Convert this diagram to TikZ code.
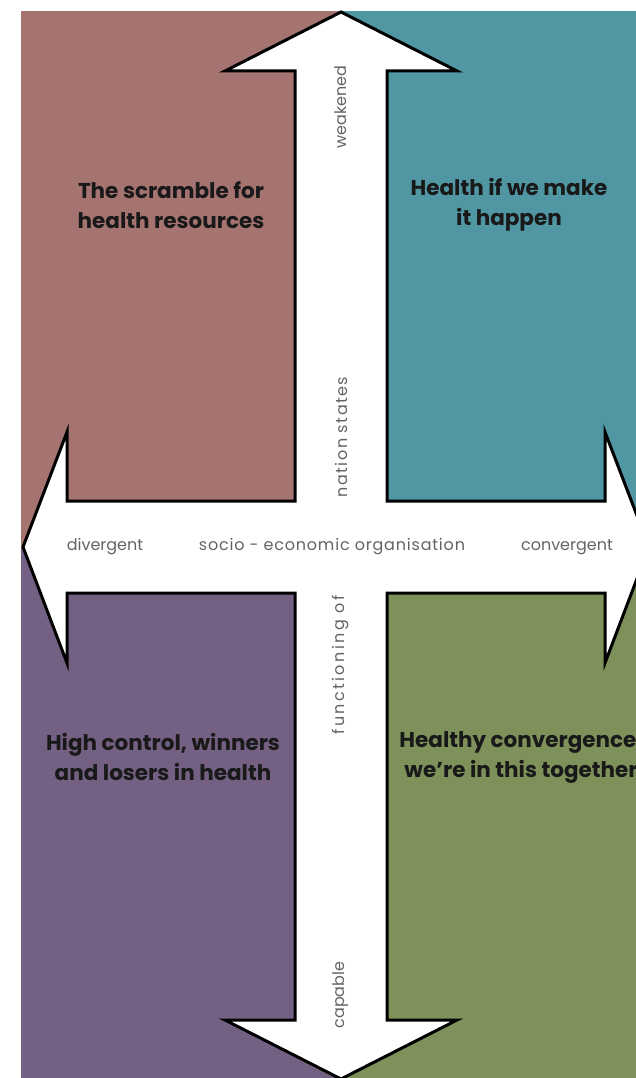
\documentclass[tikz,border=0pt]{standalone}
\usepackage{fontspec}
\setmainfont{Poppins}
\newfontfamily\axisfont{Poppins}
\usepackage{xcolor}
\usetikzlibrary{calc}

\definecolor{scramble}{RGB}{165,115,112}
\definecolor{happen}{RGB}{80,150,163}
\definecolor{control}{RGB}{115,96,130}
\definecolor{together}{RGB}{126,145,90}
\definecolor{axisgrey}{RGB}{100,100,100}

\tikzset{
  title/.style={align=center, text=black!90, font=\bfseries\fontsize{21.5}{30}\selectfont},
  axislabel/.style={text=axisgrey, font=\axisfont\fontsize{16}{18}\selectfont},
}

\begin{document}
\begin{tikzpicture}[x=1pt,y=-1pt]
      \useasboundingbox (0,0) rectangle (636,1078);
      \clip (0,0) rectangle (636,1078);
      \coordinate (centre) at (341,547);

      % the four quadrants
      \fill[scramble] (21,11) rectangle (centre);
      \fill[happen] (636,11) rectangle (centre);
      \fill[control] (21,1078) rectangle (centre);
      \fill[together] (636,1078) rectangle (centre);

      % the four-headed arrow
      \draw[line width=3pt, line join=miter, fill=white]
            (341,12) -- (457,71) -- (387,71) -- (387,501)
            -- (605,501) -- (605,432) -- (649,547) -- (605,663) -- (605,593)
            -- (387,593) -- (387,1020) -- (457,1020) -- (341,1079)
            -- (225,1020) -- (295,1020) -- (295,593)
            -- (67,593) -- (67,663) -- (23,547) -- (67,432) -- (67,501)
            -- (295,501) -- (295,71) -- (225,71) -- cycle;

      \node[title] (scramble) at (171,205) {The scramble for\\health resources};
      \node[title] (happen) at (509,205) {Health if we make\\it happen};
      \node[title] (control) at (163,757) {High control, winners\\and losers in health};
      \node[title] (together) at (521,757) {Healthy convergence,\\we’re in this together};

      \node[axislabel, rotate=90] (weakened) at (341,107) {weakened};
      \node[axislabel, rotate=90] (nation) at (341,437) {\addfontfeatures{LetterSpace=9}nation states};
      \node[axislabel, rotate=90] (functioning) at (341,665) {\addfontfeatures{LetterSpace=15}functioning of};
      \node[axislabel, rotate=90] (capable) at (341,995) {capable};
      \node[axislabel] (divergent) at (105,547) {divergent};
      \node[axislabel] (socio) at (332,547) {\addfontfeatures{LetterSpace=5}socio - economic organisation};
      \node[axislabel] (convergent) at (567,547) {convergent};
\end{tikzpicture}
\end{document}
